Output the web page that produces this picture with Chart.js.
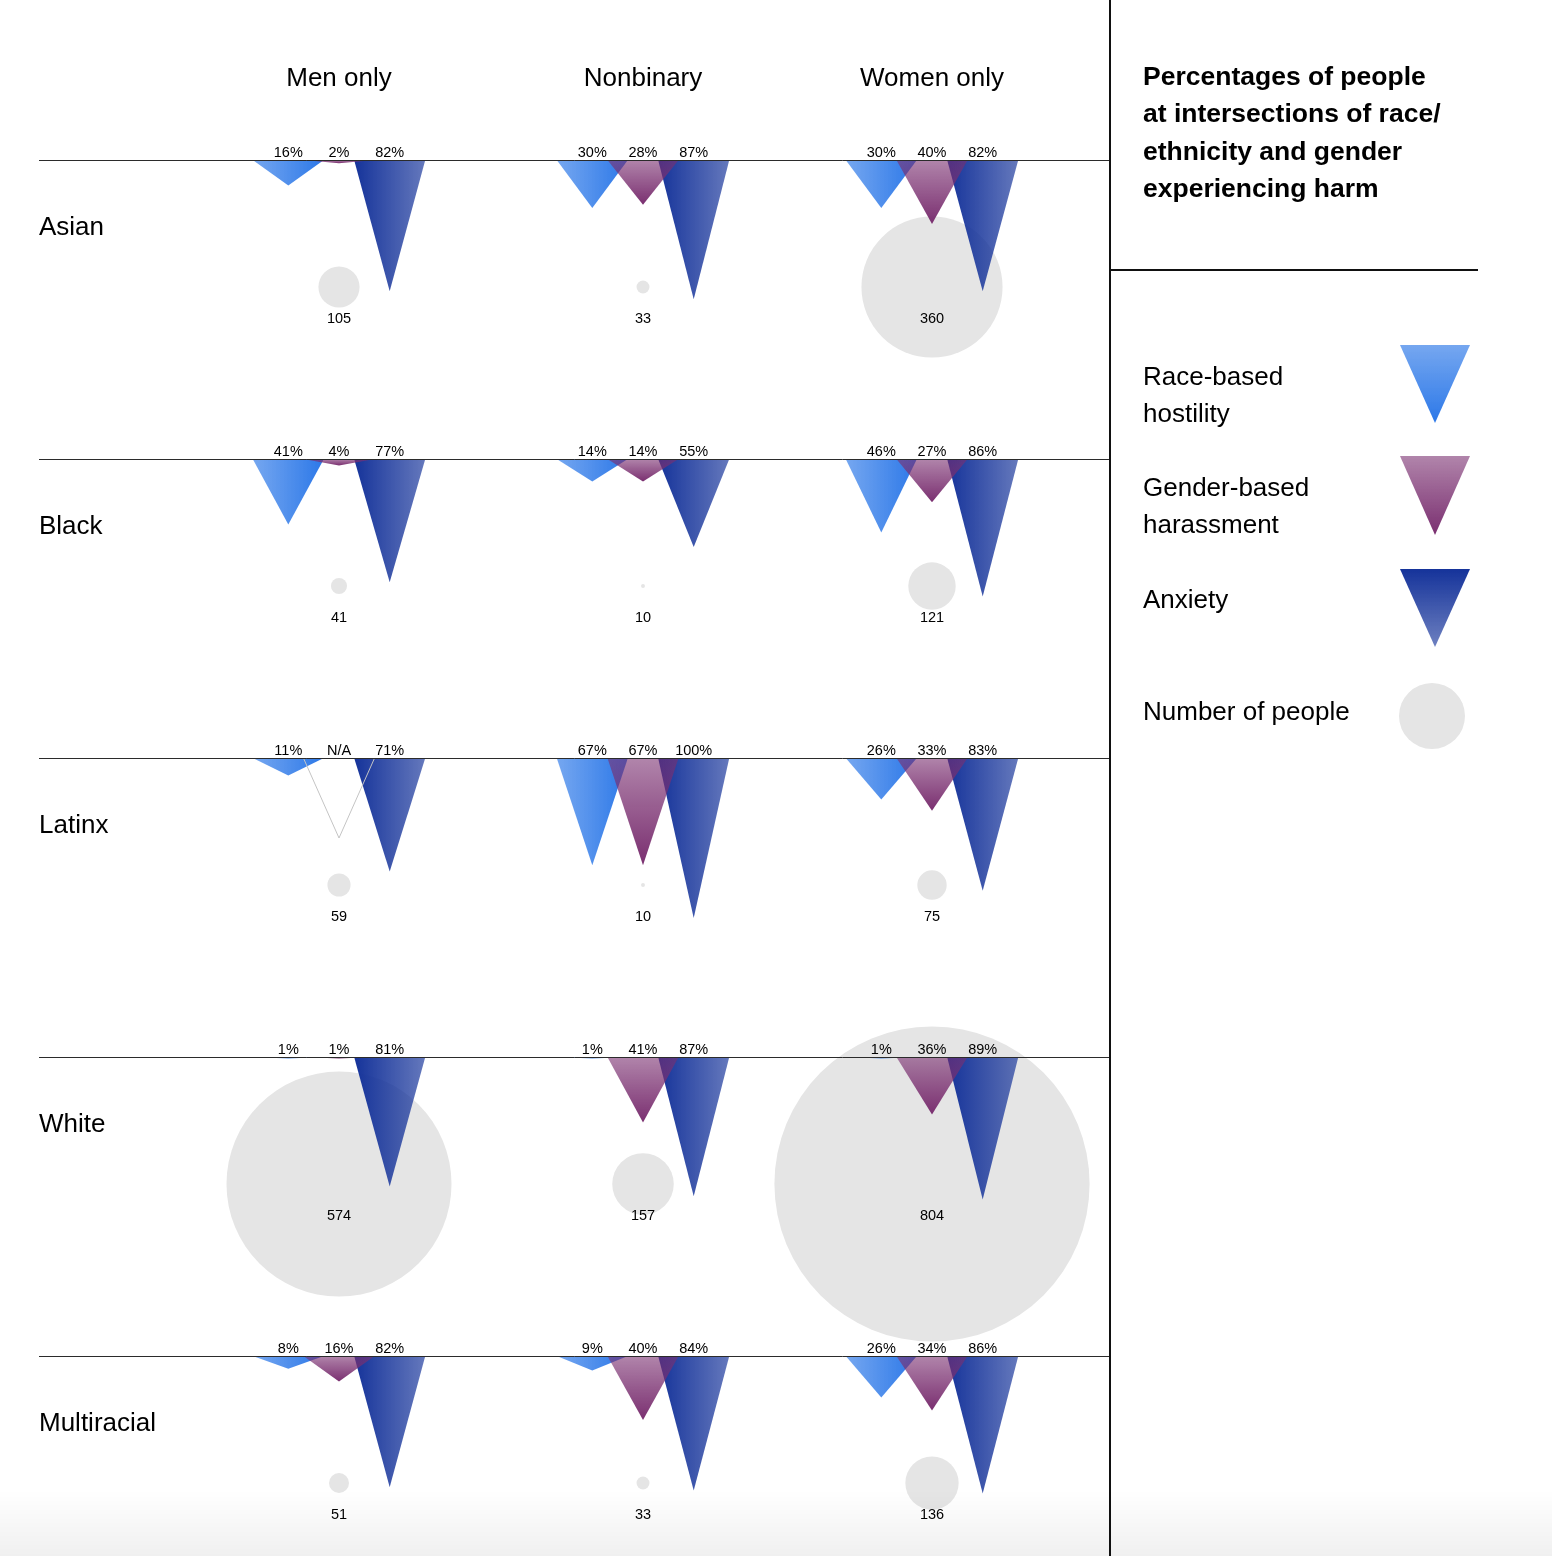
<!DOCTYPE html>
<html>
<head>
<meta charset="utf-8">
<title>Percentages of people at intersections of race/ethnicity and gender experiencing harm</title>
<script src="https://cdn.jsdelivr.net/npm/chart.js@4.4.1/dist/chart.umd.min.js"></script>
<style>
  html, body { margin: 0; padding: 0; background: #fff; }
  body { width: 1552px; height: 1556px; position: relative; overflow: hidden;
         font-family: "Liberation Sans", Arial, Helvetica, sans-serif; color: #000; }
  #chart { position: absolute; left: 0; top: 0; }
  .txt { position: absolute; font-size: 26px; line-height: 37px; white-space: nowrap; }
  .hdr { transform: translateX(-50%); }
  #title { left: 1143px; top: 58px; font-weight: bold; font-size: 26.5px; line-height: 37.3px; }
  #vline { position: absolute; left: 1109px; top: 0; width: 2px; height: 1556px; background: #111; }
  #hline { position: absolute; left: 1111px; top: 269px; width: 367px; height: 2px; background: #111; }
  .tri { position: absolute; left: 1400px; width: 70px; clip-path: polygon(0 0, 100% 0, 50% 100%); }
  #legRace { top: 345px; height: 78px; background: linear-gradient(rgba(44,120,232,0.65), rgba(44,120,232,1)); }
  #legGender { top: 456px; height: 79px; background: linear-gradient(rgba(122,47,112,0.59), rgba(122,47,112,1)); }
  #legAnx { top: 569px; height: 78px; background: linear-gradient(rgba(21,51,154,1), rgba(21,51,154,0.62)); }
  #legCircle { position: absolute; left: 1399px; top: 683px; width: 66px; height: 66px; border-radius: 50%; background: #e5e5e5; }
  #shade { position: absolute; left: 0; top: 1490px; width: 1552px; height: 66px;
           background: linear-gradient(rgba(0,0,0,0), rgba(0,0,0,0.06)); pointer-events: none; }
</style>
</head>
<body>
<canvas id="chart" width="1552" height="1556"></canvas>
<div id="labels"></div>

<div id="vline"></div>
<div id="hline"></div>
<div id="title" class="txt">Percentages of people<br>at intersections of race/<br>ethnicity and gender<br>experiencing harm</div>

<div class="txt" style="left:1143px; top:357.5px;">Race-based<br>hostility</div>
<div class="txt" style="left:1143px; top:469px;">Gender-based<br>harassment</div>
<div class="txt" style="left:1143px; top:580.5px;">Anxiety</div>
<div class="txt" style="left:1143px; top:692.5px;">Number of people</div>
<div id="legRace" class="tri"></div>
<div id="legGender" class="tri"></div>
<div id="legAnx" class="tri"></div>
<div id="legCircle"></div>
<div id="shade"></div>

<script>
const races = ['Asian', 'Black', 'Latinx', 'White', 'Multiracial'];
const genders = ['Men only', 'Nonbinary', 'Women only'];

// percent of people, rows = races, columns = genders
const raceHostility = [
  [16, 30, 30],
  [41, 14, 46],
  [11, 67, 26],
  [1, 1, 1],
  [8, 9, 26]
];
const genderHarassment = [
  [2, 28, 40],
  [4, 14, 27],
  [null, 67, 33],   // N/A for Latinx men
  [1, 41, 36],
  [16, 40, 34]
];
const anxiety = [
  [82, 87, 82],
  [77, 55, 86],
  [71, 100, 83],
  [81, 87, 89],
  [82, 84, 86]
];
const peopleCount = [
  [105, 33, 360],
  [41, 10, 121],
  [59, 10, 75],
  [574, 157, 804],
  [51, 33, 136]
];

// layout (x in column units, y in percent units)
const COLUMN_POS = [0, 1.0253, 2];
const X_MIN = -1.14334, X_MAX = 4.09106;
const Y_MIN = -100, Y_MAX = 872.5;
const ROW_STEP = 186.875;
const TRI_HALF = 0.12;
const TRI_GAP = 0.171;
const BUBBLE_DROP = 79.4;
const RADIUS_PER_PERSON = 0.196;
const NA_DEPTH = 50;
const FRAME_LEFT = 39, FRAME_RIGHT = 1110;

const rowBase = ri => ri * ROW_STEP;

const measures = [
  { key: 'race', values: raceHostility, slot: -1, order: 4, rgb: [44, 120, 232] },
  { key: 'anxiety', values: anxiety, slot: 1, order: 3, rgb: [21, 51, 154] },
  { key: 'gender', values: genderHarassment, slot: 0, order: 2, rgb: [122, 47, 112] }
];

const rgba = (c, a) => `rgba(${c[0]},${c[1]},${c[2]},${a})`;

function triFill(context) {
  const chart = context.chart;
  const ds = context.dataset;
  if (!chart.chartArea || !chart.scales.x) return rgba(ds.rgb, 0.8);
  const { x, y } = chart.scales;
  let g;
  if (ds.measure === 'gender') {
    const top = y.getPixelForValue(ds.base);
    const bottom = y.getPixelForValue(ds.base + ds.value);
    g = chart.ctx.createLinearGradient(0, top, 0, Math.max(bottom, top + 1));
    g.addColorStop(0, rgba(ds.rgb, 0.59));
    g.addColorStop(1, rgba(ds.rgb, 1));
  } else {
    const left = x.getPixelForValue(ds.cx - TRI_HALF);
    const right = x.getPixelForValue(ds.cx + TRI_HALF);
    g = chart.ctx.createLinearGradient(left, 0, right, 0);
    if (ds.measure === 'race') {
      g.addColorStop(0, rgba(ds.rgb, 0.65));
      g.addColorStop(1, rgba(ds.rgb, 1));
    } else {
      g.addColorStop(0, rgba(ds.rgb, 1));
      g.addColorStop(1, rgba(ds.rgb, 0.66));
    }
  }
  return g;
}

const datasets = [];

measures.forEach(m => {
  races.forEach((race, ri) => {
    genders.forEach((gender, gi) => {
      const v = m.values[ri][gi];
      const cx = COLUMN_POS[gi] + m.slot * TRI_GAP;
      const base = rowBase(ri);
      const na = v === null;
      const depth = na ? NA_DEPTH : v;
      datasets.push({
        type: 'line',
        measure: m.key,
        rgb: m.rgb,
        cx: cx,
        base: base,
        value: v,
        text: na ? 'N/A' : v + '%',
        order: m.order,
        data: [
          { x: cx - TRI_HALF, y: base },
          { x: cx, y: base + depth },
          { x: cx + TRI_HALF, y: base }
        ],
        tension: 0,
        pointRadius: 0,
        borderWidth: na ? 1 : 0,
        borderColor: na ? '#c4c4c4' : 'transparent',
        backgroundColor: na ? 'transparent' : triFill,
        fill: na ? false : { value: base }
      });
    });
  });
});

const bubbles = [];
races.forEach((race, ri) => {
  genders.forEach((gender, gi) => {
    const n = peopleCount[ri][gi];
    bubbles.push({ x: COLUMN_POS[gi], y: rowBase(ri) + BUBBLE_DROP, r: n * RADIUS_PER_PERSON, n: n });
  });
});
datasets.push({
  type: 'bubble',
  order: 5,
  data: bubbles,
  backgroundColor: '#e5e5e5',
  borderWidth: 0,
  hoverRadius: 0
});

const valueLabels = {
  id: 'valueLabels',
  afterDatasetsDraw(chart) {
    const { ctx, scales: { x, y } } = chart;
    ctx.save();
    ctx.strokeStyle = '#2b2b2b';
    ctx.lineWidth = 1;
    races.forEach((race, ri) => {
      const py = Math.round(y.getPixelForValue(rowBase(ri))) + 0.5;
      ctx.beginPath();
      ctx.moveTo(FRAME_LEFT, py);
      ctx.lineTo(FRAME_RIGHT, py);
      ctx.stroke();
    });

    ctx.fillStyle = '#000';
    ctx.font = '14.5px "Liberation Sans", Arial, sans-serif';
    ctx.textAlign = 'center';
    ctx.textBaseline = 'alphabetic';
    chart.data.datasets.forEach((ds, di) => {
      if (ds.type === 'line') {
        ctx.fillText(ds.text, x.getPixelForValue(ds.cx), y.getPixelForValue(ds.base) - 3);
      } else if (ds.type === 'bubble') {
        const meta = chart.getDatasetMeta(di);
        meta.data.forEach((pt, i) => {
          ctx.fillText(String(ds.data[i].n), pt.x, pt.y + 36);
        });
      }
    });
    ctx.restore();
  }
};

const chart = new Chart(document.getElementById('chart').getContext('2d'), {
  type: 'line',
  data: { datasets: datasets },
  options: {
    responsive: false,
    animation: false,
    events: [],
    layout: { padding: 0, autoPadding: false },
    plugins: { legend: { display: false }, tooltip: { enabled: false } },
    scales: {
      x: { type: 'linear', display: false, min: X_MIN, max: X_MAX },
      y: { type: 'linear', display: false, reverse: true, min: Y_MIN, max: Y_MAX }
    }
  },
  plugins: [valueLabels]
});

// column headers and row names placed with the chart's own scales
const labelBox = document.getElementById('labels');
genders.forEach((g, gi) => {
  const d = document.createElement('div');
  d.className = 'txt hdr';
  d.textContent = g;
  d.style.left = chart.scales.x.getPixelForValue(COLUMN_POS[gi]) + 'px';
  d.style.top = '58.5px';
  labelBox.appendChild(d);
});
races.forEach((r, ri) => {
  const d = document.createElement('div');
  d.className = 'txt';
  d.textContent = r;
  d.style.left = FRAME_LEFT + 'px';
  d.style.top = (chart.scales.y.getPixelForValue(rowBase(ri)) + 48.2) + 'px';
  labelBox.appendChild(d);
});
</script>
</body>
</html>
